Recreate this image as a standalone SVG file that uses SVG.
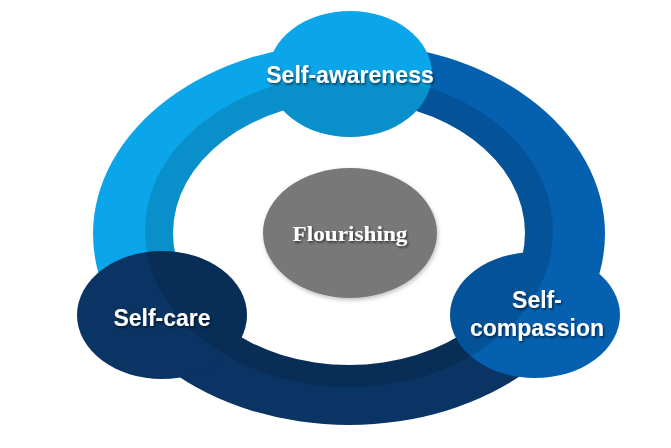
<svg xmlns="http://www.w3.org/2000/svg" width="671" height="448" viewBox="0 0 671 448">
  <style>
    .lbl { font-family: "Liberation Sans", "Arial", sans-serif; font-weight: bold; font-size: 23px; fill: #ffffff; text-anchor: middle; filter: url(#txtShadow); }
    .serif { font-family: "Liberation Serif", "Times New Roman", serif; font-weight: bold; font-size: 22px; fill: #ffffff; text-anchor: middle; filter: url(#txtShadow); }
    .shade { fill: #000000; fill-opacity: 0.13; }
  </style>
  <defs>
    <filter id="txtShadow" x="-10%" y="-30%" width="130%" height="180%">
      <feDropShadow dx="1.2" dy="1.6" stdDeviation="0.9" flood-color="#000" flood-opacity="0.6"/>
    </filter>
    <filter id="softShadow" x="-10%" y="-10%" width="130%" height="130%">
      <feDropShadow dx="1" dy="2" stdDeviation="2" flood-color="#000" flood-opacity="0.25"/>
    </filter>
    <path id="ringShape" fill-rule="evenodd" d="M93,234 a256,191 0 1,0 512,0 a256,191 0 1,0 -512,0 Z M173,233 a176,132 0 1,0 352,0 a176,132 0 1,0 -352,0 Z"/>
    <ellipse id="midShape" cx="349" cy="231" rx="204" ry="156"/>
    <clipPath id="clipLeft"><polygon points="349,234 349,-50 -50,-50 -50,407"/></clipPath>
    <clipPath id="clipRight"><polygon points="349,234 349,-50 720,-50 720,396"/></clipPath>
    <clipPath id="clipBottom"><polygon points="349,234 -50,407 -50,500 720,500 720,396"/></clipPath>
    <clipPath id="clipRing"><use href="#ringShape" clip-rule="evenodd"/></clipPath>
    <clipPath id="clipTop"><ellipse cx="350" cy="74" rx="82" ry="63"/></clipPath>
    <clipPath id="clipCare"><ellipse cx="162" cy="315" rx="85" ry="64"/></clipPath>
    <clipPath id="clipComp"><ellipse cx="535" cy="315" rx="85" ry="63"/></clipPath>
  </defs>

  <rect width="671" height="448" fill="#ffffff"/>

  <g id="connectors">
    <use href="#ringShape" fill="#0BA5E9" clip-path="url(#clipLeft)"/>
    <use href="#ringShape" fill="#0560B0" clip-path="url(#clipRight)"/>
    <use href="#ringShape" fill="#0A3463" clip-path="url(#clipBottom)"/>
    <g clip-path="url(#clipRing)"><use href="#midShape" class="shade"/></g>
  </g>

  <g id="node-self-awareness">
    <ellipse cx="350" cy="74" rx="82" ry="63" fill="#0BA5E9"/>
    <g clip-path="url(#clipTop)"><use href="#midShape" class="shade"/></g>
    <text class="lbl" x="350" y="83">Self-awareness</text>
  </g>

  <g id="node-self-care">
    <ellipse cx="162" cy="315" rx="85" ry="64" fill="#0A3463"/>
    <g clip-path="url(#clipCare)"><use href="#midShape" class="shade"/></g>
    <text class="lbl" x="162" y="326">Self-care</text>
  </g>

  <g id="node-self-compassion">
    <ellipse cx="535" cy="315" rx="85" ry="63" fill="#0560B0"/>
    <g clip-path="url(#clipComp)"><use href="#midShape" class="shade"/></g>
    <text class="lbl" x="537" y="308">Self-</text>
    <text class="lbl" x="537" y="336">compassion</text>
  </g>

  <g id="node-flourishing">
    <ellipse cx="350" cy="233" rx="87" ry="65" fill="#787878" filter="url(#softShadow)"/>
    <text class="serif" x="350" y="241" textLength="115" lengthAdjust="spacingAndGlyphs">Flourishing</text>
  </g>
</svg>
